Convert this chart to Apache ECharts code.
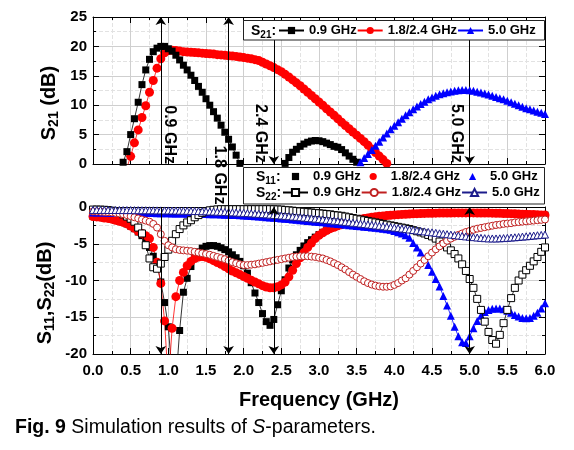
<!DOCTYPE html>
<html><head><meta charset="utf-8">
<script src="https://cdn.jsdelivr.net/npm/echarts@6/dist/echarts.min.js"></script>
<style>html,body{margin:0;padding:0;background:#fff}#c{width:574px;height:450px}</style>
</head><body><div id="c"></div>
<script>
const _ = null;
// frequency grid (GHz)
const freq = [
0.00,0.05,0.10,0.15,0.20,0.25,0.30,0.35,0.40,0.45,
0.50,0.55,0.60,0.65,0.70,0.75,0.80,0.85,0.90,0.95,
1.00,1.05,1.10,1.15,1.20,1.25,1.30,1.35,1.40,1.45,
1.50,1.55,1.60,1.65,1.70,1.75,1.80,1.85,1.90,1.95,
2.00,2.05,2.10,2.15,2.20,2.25,2.30,2.35,2.40,2.45,
2.50,2.55,2.60,2.65,2.70,2.75,2.80,2.85,2.90,2.95,
3.00,3.05,3.10,3.15,3.20,3.25,3.30,3.35,3.40,3.45,
3.50,3.55,3.60,3.65,3.70,3.75,3.80,3.85,3.90,3.95,
4.00,4.05,4.10,4.15,4.20,4.25,4.30,4.35,4.40,4.45,
4.50,4.55,4.60,4.65,4.70,4.75,4.80,4.85,4.90,4.95,
5.00,5.05,5.10,5.15,5.20,5.25,5.30,5.35,5.40,5.45,
5.50,5.55,5.60,5.65,5.70,5.75,5.80,5.85,5.90,5.95,
6.00];

// S21 (dB)
const s21_09 = [
_,_,_,_,_,_,_,-2.5,0.3,2.1,
5.0,7.7,10.5,13.5,16.0,17.8,19.1,19.7,20.0,20.0,
19.6,19.2,18.5,17.7,16.8,16.0,15.1,14.2,13.2,12.2,
11.1,10.0,8.9,7.8,6.6,5.4,4.2,2.9,1.5,0.1,
-1.3,_,_,_,_,_,_,_,_,_,
-0.9,0.1,1.1,2.0,2.5,3.0,3.4,3.7,3.9,4.0,
3.95,3.8,3.55,3.3,3.0,2.85,2.45,1.9,1.35,0.8,
0.3,-0.2,_,_,_,_,_,_,_,_,
_,_,_,_,_,_,_,_,_,_,
_,_,_,_,_,_,_,_,_,_,
_,_,_,_,_,_,_,_,_,_,
_,_,_,_,_,_,_,_,_,_,
_];
const s21_18 = [
_,_,_,_,_,_,_,_,-2.5,-0.6,
1.3,3.6,5.8,7.9,9.9,12.2,14.2,16.3,17.9,18.9,
19.3,19.35,19.3,19.2,19.1,19.05,19.0,18.95,18.9,18.85,
18.8,18.75,18.7,18.6,18.55,18.5,18.4,18.35,18.3,18.2,
18.1,18.0,17.9,17.75,17.6,17.3,17.0,16.7,16.4,16.05,
15.7,15.25,14.8,14.3,13.8,13.3,12.75,12.2,11.65,11.1,
10.55,10.0,9.4,8.85,8.3,7.7,7.1,6.55,6.0,5.45,
4.9,4.35,3.8,3.2,2.55,1.95,1.35,0.75,0.1,-0.5,
_,_,_,_,_,_,_,_,_,_,
_,_,_,_,_,_,_,_,_,_,
_,_,_,_,_,_,_,_,_,_,
_,_,_,_,_,_,_,_,_,_,
_];
const s21_50 = [
_,_,_,_,_,_,_,_,_,_,
_,_,_,_,_,_,_,_,_,_,
_,_,_,_,_,_,_,_,_,_,
_,_,_,_,_,_,_,_,_,_,
_,_,_,_,_,_,_,_,_,_,
_,_,_,_,_,_,_,_,_,_,
_,_,_,_,_,_,_,_,_,_,
-0.4,0.3,1.0,1.7,2.4,3.1,3.8,4.5,5.2,5.9,
6.5,7.1,7.7,8.3,8.8,9.3,9.8,10.2,10.6,11.0,
11.3,11.6,11.85,12.05,12.2,12.35,12.45,12.55,12.6,12.6,
12.55,12.45,12.3,12.15,12.0,11.8,11.6,11.4,11.2,11.0,
10.75,10.5,10.25,10.0,9.75,9.5,9.3,9.1,8.9,8.7,
8.5];

// S11 (dB)
const s11_09 = [
-1.3,-1.35,-1.4,-1.5,-1.55,-1.65,-1.8,-1.95,-2.1,-2.3,
-2.6,-2.95,-3.4,-3.9,-4.5,-5.5,-6.7,-7.9,-10.2,-13.0,
-16.3,-23,-24,-16.8,-11.6,-9.7,-8.1,-6.9,-6.1,-5.6,
-5.35,-5.25,-5.25,-5.35,-5.55,-5.8,-6.1,-6.5,-6.9,-7.4,
-8.0,-9.0,-10.3,-11.7,-13.0,-14.5,-15.6,-16.1,-15.3,-13.3,
-11.4,-9.9,-8.3,-7.2,-6.5,-5.9,-5.3,-4.85,-4.45,-4.1,
-3.75,-3.45,-3.15,-2.9,-2.7,-2.5,-2.35,-2.2,-2.05,-1.9,
-1.75,-1.65,-1.55,-1.48,-1.4,-1.33,-1.27,-1.22,-1.17,-1.12,
-1.08,-1.04,-1.01,-0.98,-0.95,-0.93,-0.91,-0.89,-0.87,-0.86,
-0.85,-0.84,-0.83,-0.82,-0.81,-0.81,-0.8,-0.8,-0.8,-0.8,
-0.8,-0.8,-0.81,-0.81,-0.82,-0.83,-0.84,-0.85,-0.86,-0.88,
-0.89,-0.91,-0.93,-0.95,-0.97,-0.99,-1.01,-1.03,-1.06,-1.08,
-1.1];
const s11_18 = [
-1.3,-1.35,-1.4,-1.5,-1.55,-1.65,-1.8,-1.95,-2.1,-2.3,
-2.6,-2.9,-3.3,-3.6,-3.9,-4.3,-5.5,-7.5,-10.4,-15.5,
-24,-16.5,-12.2,-10.0,-8.9,-8.0,-7.4,-7.0,-6.8,-6.75,
-6.85,-7.05,-7.3,-7.55,-7.8,-8.1,-8.4,-8.7,-8.95,-9.2,
-9.45,-9.7,-9.95,-10.2,-10.45,-10.7,-10.9,-11.0,-11.0,-10.85,
-10.6,-10.2,-9.5,-8.6,-7.7,-6.9,-6.2,-5.5,-4.9,-4.3,
-3.85,-3.5,-3.2,-2.95,-2.75,-2.55,-2.4,-2.25,-2.1,-1.95,
-1.75,-1.65,-1.55,-1.48,-1.4,-1.33,-1.27,-1.22,-1.17,-1.12,
-1.08,-1.04,-1.01,-0.98,-0.95,-0.93,-0.91,-0.89,-0.87,-0.86,
-0.85,-0.84,-0.83,-0.82,-0.81,-0.81,-0.8,-0.8,-0.8,-0.8,
-0.8,-0.8,-0.81,-0.81,-0.82,-0.83,-0.84,-0.85,-0.86,-0.88,
-0.89,-0.91,-0.93,-0.95,-0.97,-0.99,-1.01,-1.03,-1.06,-1.08,
-1.1];
const s11_50 = [
-0.75,-0.75,-0.76,-0.76,-0.77,-0.77,-0.78,-0.78,-0.79,-0.79,
-0.8,-0.8,-0.81,-0.81,-0.82,-0.82,-0.83,-0.84,-0.85,-0.85,
-0.86,-0.87,-0.88,-0.89,-0.9,-0.91,-0.92,-0.93,-0.94,-0.95,
-0.96,-0.97,-0.99,-1.0,-1.02,-1.04,-1.06,-1.08,-1.1,-1.12,
-1.15,-1.18,-1.22,-1.26,-1.3,-1.34,-1.38,-1.42,-1.46,-1.5,
-1.55,-1.6,-1.64,-1.69,-1.74,-1.79,-1.84,-1.89,-1.94,-1.99,
-2.04,-2.09,-2.14,-2.2,-2.25,-2.3,-2.36,-2.41,-2.47,-2.52,
-2.58,-2.63,-2.68,-2.73,-2.78,-2.83,-2.88,-2.95,-3.02,-3.1,
-3.25,-3.42,-3.62,-3.85,-4.2,-4.9,-5.5,-6.2,-7.0,-7.9,
-8.8,-9.8,-10.8,-12.1,-13.4,-14.8,-16.3,-17.6,-18.4,-18.5,
-17.6,-16.5,-15.5,-14.8,-14.3,-14.0,-13.85,-13.8,-13.8,-13.9,
-14.1,-14.4,-14.7,-14.9,-15.1,-15.15,-15.1,-14.8,-14.4,-13.8,
-13.1];

// S22 (dB)
const s22_09 = [
-0.35,-0.35,-0.36,-0.38,-0.42,-0.5,-0.6,-0.75,-1.0,-1.3,
-1.6,-2.0,-2.8,-3.6,-5.2,-7.0,-8.2,-8.4,-7.7,-6.8,
-5.8,-4.6,-3.7,-3.0,-2.5,-2.1,-1.8,-1.4,-1.1,-0.8,
-0.6,-0.45,-0.38,-0.33,-0.3,-0.3,-0.3,-0.3,-0.3,-0.3,
-0.3,-0.3,-0.3,-0.3,-0.3,-0.3,-0.3,-0.3,-0.31,-0.33,
-0.35,-0.4,-0.45,-0.5,-0.55,-0.6,-0.65,-0.7,-0.75,-0.8,
-0.85,-0.9,-0.95,-1.0,-1.1,-1.15,-1.2,-1.3,-1.4,-1.5,
-1.6,-1.7,-1.8,-1.9,-2.0,-2.1,-2.2,-2.3,-2.4,-2.5,
-2.6,-2.7,-2.8,-2.9,-3.0,-3.15,-3.3,-3.45,-3.6,-3.8,
-4.0,-4.3,-4.7,-5.1,-5.5,-5.9,-6.4,-7.0,-7.8,-8.7,
-9.8,-11.0,-12.5,-14.0,-15.6,-17.0,-18.1,-18.6,-17.4,-15.8,
-14.0,-12.4,-11.0,-10.0,-9.2,-8.6,-8.0,-7.4,-6.8,-6.1,
-5.5];
const s22_18 = [
-0.6,-0.62,-0.64,-0.67,-0.7,-0.74,-0.8,-0.88,-0.98,-1.1,
-1.25,-1.4,-1.55,-1.7,-1.85,-2.0,-2.3,-2.8,-3.7,-4.6,
-5.2,-5.5,-5.75,-5.85,-5.9,-5.95,-6.0,-6.1,-6.2,-6.3,
-6.4,-6.5,-6.65,-6.8,-6.95,-7.1,-7.3,-7.5,-7.65,-7.8,
-7.9,-7.9,-7.85,-7.8,-7.7,-7.6,-7.5,-7.4,-7.3,-7.2,
-7.1,-7.0,-6.9,-6.8,-6.75,-6.7,-6.7,-6.7,-6.75,-6.8,
-6.9,-7.0,-7.2,-7.4,-7.65,-7.9,-8.2,-8.5,-8.85,-9.2,
-9.5,-9.8,-10.1,-10.35,-10.55,-10.7,-10.8,-10.85,-10.85,-10.8,
-10.6,-10.35,-10.0,-9.7,-9.2,-8.7,-8.2,-7.7,-7.2,-6.7,
-6.2,-5.75,-5.35,-4.95,-4.6,-4.3,-4.05,-3.8,-3.6,-3.4,
-3.25,-3.1,-2.95,-2.85,-2.75,-2.65,-2.55,-2.45,-2.4,-2.3,
-2.25,-2.2,-2.1,-2.05,-2.0,-1.95,-1.9,-1.85,-1.8,-1.75,
-1.7];
const s22_50 = [
-0.40,-0.40,-0.40,-0.40,-0.41,-0.41,-0.41,-0.41,-0.42,-0.42,
-0.42,-0.43,-0.43,-0.44,-0.44,-0.45,-0.45,-0.46,-0.46,-0.47,
-0.47,-0.48,-0.49,-0.50,-0.51,-0.52,-0.53,-0.55,-0.56,-0.58,
-0.59,-0.61,-0.62,-0.64,-0.66,-0.68,-0.70,-0.73,-0.75,-0.78,
-0.80,-0.83,-0.86,-0.90,-0.93,-0.97,-1.00,-1.04,-1.08,-1.12,
-1.16,-1.21,-1.25,-1.30,-1.34,-1.39,-1.44,-1.49,-1.54,-1.59,
-1.64,-1.70,-1.75,-1.81,-1.86,-1.92,-1.97,-2.03,-2.08,-2.14,
-2.20,-2.26,-2.32,-2.38,-2.44,-2.50,-2.56,-2.62,-2.68,-2.74,
-2.80,-2.87,-2.93,-3.00,-3.06,-3.13,-3.19,-3.26,-3.32,-3.39,
-3.45,-3.52,-3.58,-3.64,-3.70,-3.76,-3.82,-3.88,-3.94,-4.00,
-4.05,-4.10,-4.15,-4.20,-4.24,-4.27,-4.28,-4.28,-4.26,-4.23,
-4.20,-4.16,-4.12,-4.08,-4.03,-3.99,-3.94,-3.89,-3.84,-3.80,
-3.75];

const bandNames = ['0.9 GHz', '1.8/2.4 GHz', '5.0 GHz'];
const markFreqs = [0.9, 1.8, 2.4, 5.0];

const FONT = '"Liberation Sans", Arial, Helvetica, sans-serif';
const pairs = arr => freq.map((f, i) => [f, arr[i]]);
const legendMap = {};
['S21', 'S11', 'S22'].forEach(p => bandNames.forEach((b, i) => { legendMap[p + '_' + i] = b; }));

function ser(name, data, ai, symbol, size, color, hollow, z) {
  return {
    name, type: 'line', xAxisIndex: ai, yAxisIndex: ai, data: pairs(data),
    symbol, symbolSize: size, showSymbol: true, clip: true, connectNulls: false,
    itemStyle: hollow ? { color: '#fff', borderColor: color, borderWidth: 1 } : { color: color },
    lineStyle: { color: color, width: 0.8 },
    emphasis: { disabled: true }, z: z
  };
}

function xAx(grid, pos, withLabels) {
  const main = pos === 'bottom';
  return {
    type: 'value', gridIndex: grid, position: pos, min: 0, max: 6, interval: 0.5,
    axisLine: { show: true, onZero: false, lineStyle: { color: '#000', width: 1 } },
    axisTick: { show: true, inside: true, length: 6, lineStyle: { color: '#000' } },
    minorTick: { show: true, splitNumber: 2, length: 3, lineStyle: { color: '#000' } },
    axisLabel: { show: withLabels, margin: 9, fontFamily: FONT, fontWeight: 'bold', fontSize: 15, color: '#000',
      formatter: v => v.toFixed(1) },
    splitLine: { show: main, lineStyle: { color: '#cfcfcf', width: 1 } },
    minorSplitLine: { show: main, lineStyle: { color: '#e2e2e2', width: 1, type: 'dashed' } }
  };
}
function yAx(grid, pos, min, max) {
  const main = pos === 'left';
  return {
    type: 'value', gridIndex: grid, position: pos, min: min, max: max, interval: 5,
    axisLine: { show: true, onZero: false, lineStyle: { color: '#000', width: 1 } },
    axisTick: { show: true, inside: true, length: 6, lineStyle: { color: '#000' } },
    minorTick: { show: true, splitNumber: 2, length: 3, lineStyle: { color: '#000' } },
    axisLabel: { show: main, margin: 6, fontFamily: FONT, fontWeight: 'bold', fontSize: 15, color: '#000' },
    splitLine: { show: main, lineStyle: { color: '#cfcfcf', width: 1 } },
    minorSplitLine: { show: main, lineStyle: { color: '#e2e2e2', width: 1, type: 'dashed' } }
  };
}

// label offset is applied in the rotated frame: [along text, across text]
// across text: negative = to the right of the line, positive = to the left
const lblStyle = (txt, side) => ({
  show: true, position: 'inside', formatter: txt, rotate: -90, offset: [0, side],
  fontFamily: FONT, fontWeight: 'bold', fontSize: 16, color: '#000'
});
const mlBase = { silent: true, symbolSize: 8, label: { show: false },
  lineStyle: { color: '#000', width: 1, type: 'solid' }, emphasis: { disabled: true } };
const mpBase = { silent: true, symbol: 'circle', symbolSize: 1, itemStyle: { color: 'rgba(0,0,0,0)' } };

const seriesList = [
  ser('S21_1', s21_18, 0, 'circle', 9, '#ff0000', false, 3),
  ser('S21_0', s21_09, 0, 'rect', 7, '#000000', false, 4),
  ser('S21_2', s21_50, 0, 'triangle', 8, '#0000ff', false, 5),
  ser('S11_0', s11_09, 2, 'rect', 7, '#000000', false, 3),
  ser('S11_1', s11_18, 2, 'circle', 9, '#ff0000', false, 3),
  ser('S11_2', s11_50, 2, 'triangle', 8, '#0000ff', false, 3),
  ser('S22_0', s22_09, 2, 'rect', 7, '#000000', true, 4),
  ser('S22_1', s22_18, 2, 'circle', 7, '#c02020', true, 4),
  ser('S22_2', s22_50, 2, 'triangle', 7, '#1c1c8c', true, 4),
  { name: 'annTop', type: 'line', xAxisIndex: 0, yAxisIndex: 0, data: [], z: 6,
    markLine: Object.assign({}, mlBase, { data: [
      [{ coord: [markFreqs[0], 25], symbol: 'arrow' }, { coord: [markFreqs[0], 0], symbol: 'none' }],
      [{ coord: [markFreqs[2], 25], symbol: 'none' }, { coord: [markFreqs[2], 0], symbol: 'arrow' }],
      [{ coord: [markFreqs[3], 25], symbol: 'none' }, { coord: [markFreqs[3], 0], symbol: 'arrow' }]
    ] }),
    markPoint: Object.assign({}, mpBase, { data: [
      { coord: [markFreqs[0], 5.0], label: lblStyle('0.9 GHz', -9) },
      { coord: [markFreqs[2], 5.2], label: lblStyle('2.4 GHz', 13) },
      { coord: [markFreqs[3], 5.2], label: lblStyle('5.0 GHz', 13) }
    ] }) },
  { name: 'annBot', type: 'line', xAxisIndex: 2, yAxisIndex: 2, data: [], z: 6,
    markLine: Object.assign({}, mlBase, { data: [
      [{ coord: [markFreqs[0], 0], symbol: 'none' }, { coord: [markFreqs[0], -20], symbol: 'arrow' }],
      [{ coord: [markFreqs[2], 0], symbol: 'arrow' }, { coord: [markFreqs[2], -20], symbol: 'arrow' }],
      [{ coord: [markFreqs[3], 0], symbol: 'arrow' }, { coord: [markFreqs[3], -20], symbol: 'arrow' }]
    ] }) },
  { name: 'annAll', type: 'line', xAxisIndex: 4, yAxisIndex: 4, data: [], z: 6,
    markLine: Object.assign({}, mlBase, { data: [
      [{ coord: [markFreqs[1], 1], symbol: 'arrow' }, { coord: [markFreqs[1], 0], symbol: 'arrow' }]
    ] }),
    markPoint: Object.assign({}, mpBase, { data: [
      { coord: [markFreqs[1], 0.531], label: lblStyle('1.8 GHz', 9) }
    ] }) }
];

function legend(names, left, top, noLine) {
  const l = { data: names, left: left, top: top, orient: 'horizontal', padding: 0,
    itemWidth: 25, itemHeight: 9, itemGap: 0, selectedMode: false, z: 20,
    textStyle: { fontFamily: FONT, fontWeight: 'bold', fontSize: 13, color: '#000' },
    formatter: n => legendMap[n] };
  if (noLine) l.lineStyle = { width: 0, opacity: 0 };
  return l;
}

const subRich = (big, small, lh) => ({
  m: { fontFamily: FONT, fontWeight: 'bold', fontSize: big, lineHeight: lh, color: '#000' },
  s: { fontFamily: FONT, fontWeight: 'bold', fontSize: small, lineHeight: Math.round(lh * 0.75), verticalAlign: 'bottom', color: '#000' }
});

const option = {
  animation: false,
  backgroundColor: '#fff',
  grid: [
    { left: 93, top: 17, width: 452, height: 147 },
    { left: 93, top: 207, width: 452, height: 147 },
    { left: 93, top: 17, width: 452, height: 337 }
  ],
  xAxis: [
    xAx(0, 'bottom', false), xAx(0, 'top', false),
    Object.assign(xAx(1, 'bottom', true), { name: 'Frequency (GHz)', nameLocation: 'middle', nameGap: 36,
      nameTextStyle: { fontFamily: FONT, fontWeight: 'bold', fontSize: 20, color: '#000' } }),
    xAx(1, 'top', false),
    { type: 'value', gridIndex: 2, min: 0, max: 6, show: false }
  ],
  yAxis: [
    yAx(0, 'left', 0, 25), yAx(0, 'right', 0, 25),
    yAx(1, 'left', -20, 0), yAx(1, 'right', -20, 0),
    { type: 'value', gridIndex: 2, min: 0, max: 1, show: false }
  ],
  legend: [
    legend(['S21_0', 'S21_1', 'S21_2'], 278, 24, false),
    legend(['S11_0', 'S11_1', 'S11_2'], 283, 170, true),
    legend(['S22_0', 'S22_1', 'S22_2'], 282, 186, false)
  ],
  graphic: [
    { type: 'rect', z: 15, shape: { x: 243.5, y: 20.5, width: 301, height: 19.5 },
      style: { fill: '#fff', stroke: '#222', lineWidth: 1 } },
    { type: 'rect', z: 15, shape: { x: 243.5, y: 167.5, width: 301, height: 36.5 },
      style: { fill: '#fff', stroke: '#222', lineWidth: 1 } },
    { type: 'text', z: 21, x: 251, y: 31, style: { text: '{m|S}{s|21}{m|:}', rich: subRich(14, 10, 18), verticalAlign: 'middle' } },
    { type: 'text', z: 21, x: 256, y: 177, style: { text: '{m|S}{s|11}{m|:}', rich: subRich(14, 10, 18), verticalAlign: 'middle' } },
    { type: 'text', z: 21, x: 256, y: 193, style: { text: '{m|S}{s|22}{m|:}', rich: subRich(14, 10, 18), verticalAlign: 'middle' } },
    { type: 'text', z: 21, x: 49, y: 103, rotation: Math.PI / 2,
      style: { text: '{m|S}{s|21}{m| (dB)}', rich: subRich(20, 14, 24), align: 'center', verticalAlign: 'middle' } },
    { type: 'text', z: 21, x: 45, y: 293, rotation: Math.PI / 2,
      style: { text: '{m|S}{s|11}{m|,S}{s|22}{m|(dB)}', rich: subRich(20, 14, 24), align: 'center', verticalAlign: 'middle' } },
    { type: 'text', z: 21, x: 15, y: 428,
      style: { text: '{b|Fig. 9} Simulation results of {i|S}-parameters.', fontFamily: FONT, fontSize: 19.5, fill: '#000', verticalAlign: 'middle',
        rich: { b: { fontFamily: FONT, fontWeight: 'bold', fontSize: 19.5, color: '#000' },
                i: { fontFamily: FONT, fontStyle: 'italic', fontSize: 19.5, color: '#000' } } } }
  ],
  series: seriesList
};

const chart = echarts.init(document.getElementById('c'), null, { renderer: 'canvas' });
chart.setOption(option);
</script>
</body></html>
